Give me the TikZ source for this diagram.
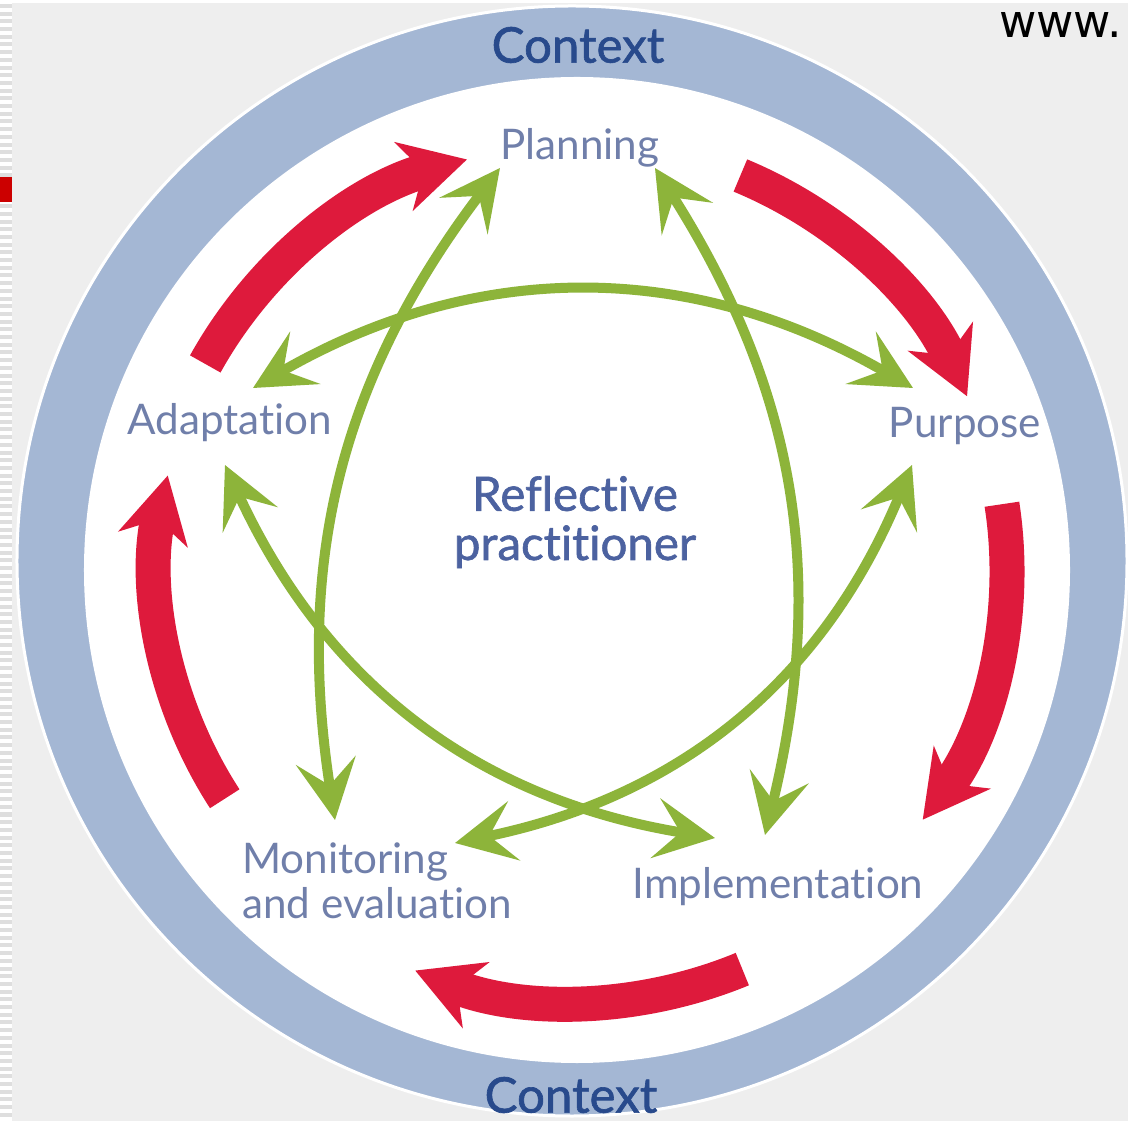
\documentclass[tikz,border=0pt]{standalone}
\usepackage{fontspec}
\setmainfont{Lato}[Ligatures=NoCommon]
\newfontfamily\midfont{Lato}[Ligatures=NoCommon, FakeBold=1.3]
\newfontfamily\urlfont{DejaVu Sans}
\usetikzlibrary{arrows.meta}

\definecolor{bggray}{RGB}{238,238,238}
\definecolor{stripegray}{RGB}{222,222,222}
\definecolor{flagred}{RGB}{204,0,0}
\definecolor{ringblue}{RGB}{164,183,212}
\definecolor{cyclered}{RGB}{222,26,60}
\definecolor{linkgreen}{RGB}{141,180,58}
\definecolor{labelblue}{RGB}{112,127,170}
\definecolor{ctxblue}{RGB}{40,74,140}
\definecolor{coreblue}{RGB}{76,98,160}

\begin{document}
\begin{tikzpicture}[x=0.02cm, y=0.02cm,
    stage/.style={text=labelblue, font=\fontsize{24}{25.5}\selectfont, inner sep=0pt},
    context/.style={text=ctxblue, font=\midfont\fontsize{28}{30}\selectfont, inner sep=0pt},
    redarc/.style={cyclered, line width=0.7cm, -{Stealth[length=1.3cm, width=1.4cm, inset=0.4cm]}},
    greenlink/.style={linkgreen, line width=0.2cm,
      {Stealth[length=1.2cm, width=1.2cm, inset=0.5cm]}-{Stealth[length=1.2cm, width=1.2cm, inset=0.5cm]}}]
    % page
    \useasboundingbox (-577,-551) rectangle (551,570);
    \fill[bggray] (-577,-551) rectangle (551,570);
    \fill[white] (-577,570) rectangle (551,567);
    \fill[white] (-577,-551) rectangle (-565,570);
    \foreach \k in {0,...,145}
      \fill[stripegray] (-577,566-\k*7.7) rectangle (-565,562-\k*7.7);
    \fill[flagred] (-577,393) rectangle (-565,368);
    \node[font=\urlfont\fontsize{26}{30}\selectfont, anchor=base east, inner sep=0pt] (url) at (545,532) {www.};
    % context ring
    \fill[ringblue] (-5,9) circle (554);
    \draw[white, line width=0.06cm] (-5,9) circle (555);
    \fill[white] (0,0) circle (493);
    \node[context] (ctx-top) at (1,525) {Context};
    \node[context] (ctx-bot) at (-6,-525) {Context};
    % stages
    \node[stage] (plan) at (3,422) {Planning};
    \node[stage] (purp) at (388,144) {Purpose};
    \node[stage] (adap) at (-347,147) {Adaptation};
    \node[stage, align=left, anchor=west] (moni) at (-335,-311) {Monitoring\\and evaluation};
    \node[stage] (impl) at (201,-317) {Implementation};
    \node[text=coreblue, font=\midfont\fontsize{27}{28}\selectfont, align=center, inner sep=0pt] (core) at (-2,48) {Reflective\\practitioner};
    % cycle
    \draw[redarc] (151:425) arc[start angle=151, end angle=105, radius=425];
    \draw[redarc] (67.5:427) arc[start angle=67.5, end angle=24, radius=427];
    \draw[redarc] (8.8:430) arc[start angle=8.8, end angle=-37, radius=418];
    \draw[redarc] (-67.5:432) arc[start angle=-67.5, end angle=-112, radius=432];
    \draw[redarc] (-147:420) arc[start angle=-147, end angle=-193, radius=420];
    % links
    \coordinate (adap-t) at (-324,182);
    \coordinate (adap-b) at (-352,105);
    \coordinate (purp-t) at (336,182);
    \coordinate (purp-b) at (335,105);
    \coordinate (plan-l) at (-77,402);
    \coordinate (plan-r) at (78,402);
    \coordinate (moni-t) at (-242,-250);
    \coordinate (moni-r) at (-122,-273);
    \coordinate (impl-t) at (188,-265);
    \coordinate (impl-l) at (138,-268);
    \draw[greenlink] (adap-t) to[bend left=30] (purp-t);
    \draw[greenlink] (plan-l) to[bend right=23] (moni-t);
    \draw[greenlink] (plan-r) to[bend left=23] (impl-t);
    \draw[greenlink] (adap-b) to[bend right=28] (impl-l);
    \draw[greenlink] (purp-b) to[bend left=28] (moni-r);
\end{tikzpicture}
\end{document}
